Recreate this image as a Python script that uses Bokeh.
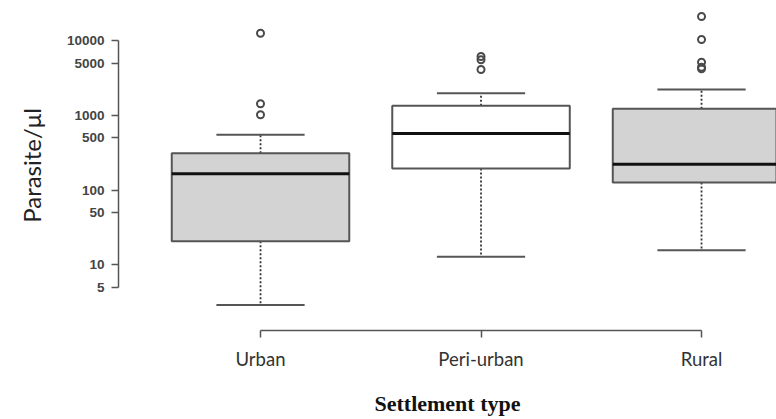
from bokeh.plotting import figure
from bokeh.models import Range1d, FixedTicker, NumeralTickFormatter, ColumnDataSource
from bokeh.transform import dodge
from bokeh.embed import file_html
from bokeh.resources import INLINE

# ---- data ----
categories = ["Urban", "Peri-urban", "Rural"]
lower_whisker = [2.9, 12.9, 15.7]
q1 = [20.7, 194, 126]
median = [165, 571, 222]
q3 = [311, 1340, 1222]
upper_whisker = [548, 1974, 2213]
outliers_urban = [12500, 1425, 1016]
outliers_peri = [6110, 5520, 4095]
outliers_rural = [20900, 10300, 5130, 4400, 4190]
box_fill = ["#d3d3d3", "#ffffff", "#d3d3d3"]
y_ticks = [5, 10, 50, 100, 500, 1000, 5000, 10000]

xpos = [1, 2, 3]
src = ColumnDataSource(dict(x=xpos, lw=lower_whisker, q1=q1, med=median,
                            q3=q3, uw=upper_whisker, fill=box_fill))

out_x, out_y = [], []
for i, vals in enumerate([outliers_urban, outliers_peri, outliers_rural]):
    out_x += [xpos[i]] * len(vals)
    out_y += vals

p = figure(width=776, height=419, output_backend="svg", toolbar_location=None,
           y_axis_type="log",
           x_range=Range1d(0.356, 3.340), y_range=Range1d(10 ** 0.123, 10 ** 4.5348),
           min_border_left=118, min_border_right=0, min_border_top=0, min_border_bottom=89)
p.outline_line_color = None
p.xgrid.visible = False
p.ygrid.visible = False
p.background_fill_color = "white"

edge = "#555555"
# whiskers
p.segment(x0="x", y0="q3", x1="x", y1="uw", source=src, line_color="#333333",
          line_width=1.8, line_dash="2 2")
p.segment(x0="x", y0="q1", x1="x", y1="lw", source=src, line_color="#333333",
          line_width=1.8, line_dash="2 2")
# caps
p.segment(x0=dodge("x", -0.2), y0="uw", x1=dodge("x", 0.2), y1="uw", source=src,
          line_color=edge, line_width=2)
p.segment(x0=dodge("x", -0.2), y0="lw", x1=dodge("x", 0.2), y1="lw", source=src,
          line_color=edge, line_width=2)
# boxes
p.vbar(x="x", width=0.805, top="q3", bottom="q1", source=src, fill_color="fill",
       line_color=edge, line_width=2)
# medians
p.segment(x0=dodge("x", -0.4025), y0="med", x1=dodge("x", 0.4025), y1="med", source=src,
          line_color="#111111", line_width=3)
# outliers
p.scatter(out_x, out_y, marker="circle", size=7, fill_color=None,
          line_color="#4a4a4a", line_width=2)

# x axis
xa = p.xaxis[0]
xa.ticker = FixedTicker(ticks=xpos)
xa.major_label_overrides = {x: c for x, c in zip(xpos, categories)}
xa.bounds = (1, 3)
xa.axis_line_color = edge
xa.axis_line_width = 1.5
xa.major_tick_line_color = edge
xa.major_tick_line_width = 1.5
xa.major_tick_in = 0
xa.major_tick_out = 7
xa.major_label_standoff = 10
xa.major_label_text_font = "Lato"
xa.major_label_text_font_size = "18.5px"
xa.major_label_text_color = "#333333"
xa.axis_label = "Settlement type"
xa.axis_label_text_font = "Liberation Serif"
xa.axis_label_text_font_style = "bold"
xa.axis_label_text_font_size = "22px"
xa.axis_label_text_color = "#111111"
xa.axis_label_standoff = 18

# y axis
ya = p.yaxis[0]
ya.ticker = FixedTicker(ticks=y_ticks)
ya.formatter = NumeralTickFormatter(format="0")
ya.bounds = (5, 10000)
ya.axis_line_color = edge
ya.axis_line_width = 1.5
ya.major_tick_line_color = edge
ya.major_tick_line_width = 1.5
ya.major_tick_in = 0
ya.major_tick_out = 7
ya.major_label_standoff = 7
ya.major_label_text_font = "Liberation Sans"
ya.major_label_text_font_style = "bold"
ya.major_label_text_font_size = "13.5px"
ya.major_label_text_color = "#444444"
ya.axis_label = "Parasite/μl"
ya.axis_label_text_font = "Lato"
ya.axis_label_text_font_style = "normal"
ya.axis_label_text_font_size = "24px"
ya.axis_label_text_color = "#222222"
ya.axis_label_standoff = 18

open("out.html", "w").write(file_html(p, INLINE))
